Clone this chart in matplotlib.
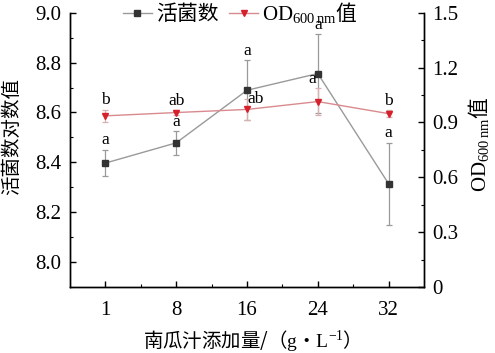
import numpy as np
import matplotlib
matplotlib.use('Agg')
import matplotlib.pyplot as plt
from matplotlib.ticker import MultipleLocator, FixedLocator
from matplotlib.lines import Line2D

plt.rcParams['mathtext.fontset'] = 'custom'
plt.rcParams['mathtext.rm'] = 'Liberation Serif'
plt.rcParams['mathtext.it'] = 'Liberation Serif:italic'

SERIF = 'Liberation Serif'
CJK = 'Noto Sans CJK SC'

# data
doses = ['1', '8', '16', '24', '32']
live = [8.397, 8.478, 8.689, 8.756, 8.314]
live_err = [0.053, 0.047, 0.12, 0.157, 0.165]
live_sig = ['a', 'a', 'a', 'a', 'a']
od = [0.936, 0.954, 0.971, 1.014, 0.948]
od_err = [0.034, 0.012, 0.058, 0.072, 0.02]
od_sig = ['b', 'ab', 'ab', 'a', 'b']

x = np.arange(len(doses))
od_name = r'$\mathrm{OD}_{600\,\mathrm{nm}}$值'

live_style = dict(color='#9a9a9a', lw=1.0, marker='s', ms=4, mfc='#333333', mec='#333333')
od_style = dict(color='#d98a8e', lw=1.0, marker='v', ms=5, mfc='#d6202c', mec='#d6202c')

fig = plt.figure(figsize=(4.95, 3.53), dpi=100)
ax = fig.add_axes([0.1414, 0.187, 0.7152, 0.777])
ax2 = ax.twinx()

ax.errorbar(x, live, yerr=live_err, ecolor='#9a9a9a', elinewidth=0.9,
            capsize=2, capthick=0.9, zorder=3, **live_style)
ax2.errorbar(x, od, yerr=od_err, ecolor='#d8b0b2', elinewidth=0.9,
             capsize=2, capthick=0.9, zorder=3, **od_style)

for i in range(len(x)):
    ax.annotate(live_sig[i], (x[i], live[i] + live_err[i]), xytext=(0, 1),
                textcoords='offset points', ha='center', va='bottom',
                fontsize=12.5, family=SERIF)
    # two OD letters sit beside the bars in the original
    if i == 2:
        off, va = (6, 0), 'center'
    elif i == 3:
        off, va = (-4, 1), 'bottom'
    else:
        off, va = (0, 1), 'bottom'
    ax2.annotate(od_sig[i], (x[i], od[i] + od_err[i]), xytext=off,
                 textcoords='offset points', ha='center', va=va,
                 fontsize=12.5, family=SERIF)

ax.set_xlim(-0.5, 4.5)
ax.set_ylim(7.9, 9.0)
ax2.set_ylim(0, 1.5)

ax.set_xticks(x)
ax.set_xticklabels(doses, family=SERIF, fontsize=15)
ax.xaxis.set_minor_locator(FixedLocator([0.5, 1.5, 2.5, 3.5]))
ax.set_yticks([8.0, 8.2, 8.4, 8.6, 8.8, 9.0])
ax.set_yticklabels(['8.0', '8.2', '8.4', '8.6', '8.8', '9.0'], family=SERIF, fontsize=15)
ax.yaxis.set_minor_locator(MultipleLocator(0.1))
ax2.set_yticks([0, 0.3, 0.6, 0.9, 1.2, 1.5])
ax2.set_yticklabels(['0', '0.3', '0.6', '0.9', '1.2', '1.5'], family=SERIF, fontsize=15)
ax2.yaxis.set_minor_locator(MultipleLocator(0.15))

for a in (ax, ax2):
    a.spines['top'].set_visible(False)
    for s in a.spines.values():
        s.set_linewidth(1.0)
    a.tick_params(which='major', direction='in', length=4, width=1.0)
    a.tick_params(which='minor', direction='in', length=2, width=0.8)
ax.tick_params(axis='x', which='major', pad=10)
ax.tick_params(axis='y', which='major', pad=6)
ax2.tick_params(axis='y', which='major', pad=6)

ax.set_xlabel(r'南瓜汁添加量/（$\mathrm{g}$•$\mathrm{L}^{-1}$）', family=CJK, fontsize=14, labelpad=6)
ax.set_ylabel('活菌数对数值', family=CJK, fontsize=14)
ax.yaxis.set_label_coords(-0.135, 0.55)
ax2.set_ylabel(od_name, family=CJK, fontsize=15)
ax2.yaxis.set_label_coords(1.12, 0.52)

handles = [Line2D([], [], **live_style), Line2D([], [], **od_style)]
leg = ax.legend(handles, ['活菌数', od_name], loc='center',
                bbox_to_anchor=(0.48, 1.0), ncol=2, frameon=False, prop={'family': CJK, 'size': 15},
                handlelength=1.4, columnspacing=0.5, handletextpad=0.2, borderpad=0)
leg.set_zorder(5)

fig.savefig('out.png', dpi=100)
